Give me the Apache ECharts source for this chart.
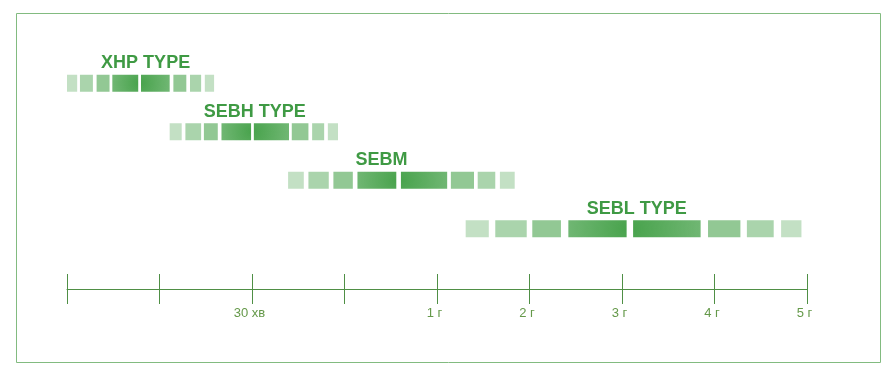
<!DOCTYPE html>
<html>
<head>
<meta charset="utf-8">
<script src="https://cdn.jsdelivr.net/npm/echarts@6/dist/echarts.min.js"></script>
<style>
  html, body { margin: 0; padding: 0; background: #fff; }
  #chart { width: 896px; height: 377px; }
</style>
</head>
<body>
<div id="chart"></div>
<script>
// rows (top to bottom)
const rowNames = ['XHP TYPE', 'SEBH TYPE', 'SEBM', 'SEBL TYPE'];
// where each row title sits on the time axis
const labelPos = [0.85, 2.03, 3.40, 6.16];

// segment edges per row, in axis units [start, end]
const xhpSegs = [[0.00, 0.11], [0.14, 0.28], [0.32, 0.46], [0.49, 0.77], [0.80, 1.11], [1.15, 1.29], [1.33, 1.45], [1.49, 1.59]];
const sebhSegs = [[1.11, 1.24], [1.28, 1.45], [1.48, 1.63], [1.67, 1.99], [2.02, 2.40], [2.43, 2.61], [2.65, 2.78], [2.82, 2.93]];
const sebmSegs = [[2.39, 2.56], [2.61, 2.83], [2.88, 3.09], [3.14, 3.56], [3.61, 4.11], [4.15, 4.40], [4.44, 4.63], [4.68, 4.84]];
const seblSegs = [[4.31, 4.56], [4.63, 4.97], [5.03, 5.34], [5.42, 6.05], [6.12, 6.85], [6.93, 7.28], [7.35, 7.64], [7.72, 7.94]];

// tick labels on the time axis (index = tick value)
const tickLabels = ['', '', '30 хв', '', '1 г', '2 г', '3 г', '4 г', '5 г'];

const allSegs = [xhpSegs, sebhSegs, sebmSegs, seblSegs];
const segData = [];
allSegs.forEach((segs, row) => {
  segs.forEach((s, k) => segData.push([s[0], s[1], row, k]));
});
const labelData = rowNames.map((n, i) => [labelPos[i], i, n]);

const green = '67,160,71';
// opacity of each segment, light ends -> dark middle
const segAlpha = [0.32, 0.45, 0.58, 0.8, 0.88, 0.58, 0.45, 0.32];

function segFill(k, x, y, w, h) {
  if (k === 3 || k === 4) {
    // radial glow centred on the join of the two middle pieces
    const cx = k === 3 ? x + w : x;
    return new echarts.graphic.RadialGradient(cx, y + h / 2, w * 1.1, [
      { offset: 0, color: 'rgba(' + green + ',0.97)' },
      { offset: 1, color: 'rgba(' + green + ',0.74)' }
    ], true);
  }
  return 'rgba(' + green + ',' + segAlpha[k] + ')';
}

const chart = echarts.init(document.getElementById('chart'));

const option = {
  animation: false,
  grid: { left: 67, right: 89, top: 59, height: 194 },
  graphic: [{
    type: 'rect',
    shape: { x: 16.5, y: 13.5, width: 864, height: 349 },
    style: { fill: 'none', stroke: '#82bb80', lineWidth: 1 },
    silent: true
  }],
  xAxis: [
    {
      type: 'value', min: 0, max: 8, interval: 1,
      offset: 36,
      axisLine: { show: true, lineStyle: { color: '#4f8f45', width: 1 } },
      axisTick: { show: true, length: 15, lineStyle: { color: '#4f8f45' } },
      axisLabel: {
        margin: 18, color: '#65994a', fontSize: 13,
        padding: [0, 5, 0, 0],
        fontFamily: 'Liberation Sans, Arial, sans-serif',
        formatter: v => tickLabels[v] || ''
      },
      splitLine: { show: false }
    },
    {
      type: 'value', min: 0, max: 8, interval: 1,
      position: 'bottom', offset: 36,
      axisLine: { show: false },
      axisTick: { show: true, inside: true, length: 15, lineStyle: { color: '#4f8f45' } },
      axisLabel: { show: false },
      splitLine: { show: false }
    }
  ],
  yAxis: {
    type: 'category', data: rowNames, inverse: true, show: false
  },
  series: [
    {
      type: 'custom',
      xAxisIndex: 0,
      encode: { x: [0, 1], y: 2 },
      data: segData,
      renderItem: (params, api) => {
        const p0 = api.coord([api.value(0), api.value(2)]);
        const p1 = api.coord([api.value(1), api.value(2)]);
        const h = 17;
        const x = p0[0], y = p0[1] - h / 2, w = p1[0] - p0[0];
        return {
          type: 'rect',
          shape: { x: x, y: y, width: w, height: h },
          style: { fill: segFill(api.value(3), x, y, w, h) }
        };
      }
    },
    {
      type: 'custom',
      xAxisIndex: 0,
      encode: { x: 0, y: 1 },
      data: labelData,
      renderItem: (params, api) => {
        const p = api.coord([api.value(0), api.value(1)]);
        return {
          type: 'text',
          x: p[0], y: p[1] - 20,
          style: {
            text: labelData[params.dataIndex][2],
            fill: '#3f9a44',
            font: 'bold 18px "Liberation Sans", Arial, sans-serif',
            align: 'center', verticalAlign: 'middle'
          }
        };
      }
    }
  ]
};

chart.setOption(option);
window.addEventListener('resize', () => chart.resize());
</script>
</body>
</html>
